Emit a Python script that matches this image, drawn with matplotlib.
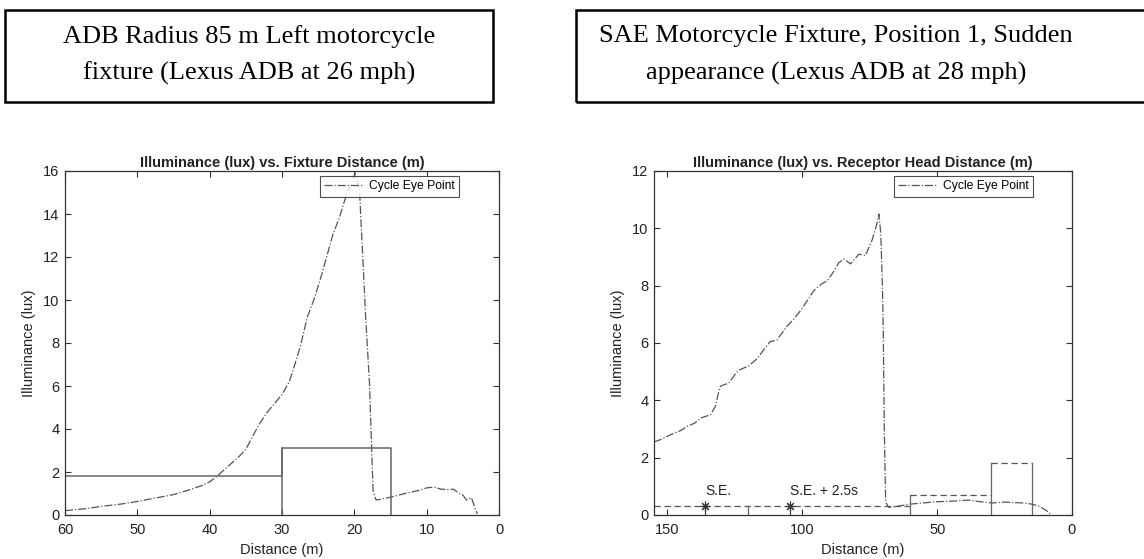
import matplotlib
matplotlib.use("Agg")
import matplotlib.pyplot as plt
from matplotlib.patches import Rectangle

# ---------------- data ----------------
left_dist = [60, 57, 55, 52, 50, 47, 45, 43, 41, 40, 39, 38, 37, 36, 35, 34, 33, 32, 31, 30,
             29, 28.5, 27.5, 26.5, 25.5, 24.5, 23, 22, 21, 20.3, 19.9, 19.3, 18.4, 17.9, 17.6,
             17.4, 17.0, 16.5, 15, 13, 11, 10, 9, 8, 7, 6.3, 5.5, 5.0, 4.5, 3.8, 3.4, 3.0]
left_lux = [0.2, 0.3, 0.4, 0.52, 0.63, 0.82, 0.95, 1.15, 1.38, 1.54, 1.8, 2.1, 2.4, 2.7, 3.05,
            3.7, 4.3, 4.8, 5.2, 5.6, 6.2, 6.7, 7.8, 9.2, 10.1, 11.2, 13.0, 13.9, 15.0, 15.5,
            15.9, 15.2, 9.0, 6.1, 3.0, 1.1, 0.7, 0.72, 0.83, 1.0, 1.15, 1.26, 1.3, 1.2, 1.18,
            1.2, 1.0, 0.93, 0.7, 0.8, 0.4, 0.05]
left_limit_dist = [60, 30, 30, 15, 15]
left_limit_lux = [1.8, 1.8, 3.1, 3.1, 0]

right_dist = [155, 152, 148.8, 145, 142.6, 140, 137.7, 134, 132.2, 131, 130.3, 127.3, 125, 123.6,
              119.9, 116.8, 114, 111.9, 109.5, 107.5, 105.8, 103, 100.6, 98, 95.7, 93, 90.7,
              88.3, 86.5, 84.6, 82.1, 79, 76.6, 74.1, 72.5, 71.6, 70.9, 70.3, 70.0, 69.6, 69.1,
              68, 65, 60, 55, 51.3, 45, 38.3, 33, 29.6, 25, 22.9, 18, 14.9, 12, 9.4, 7.6]
right_lux = [2.55, 2.65, 2.8, 2.95, 3.1, 3.2, 3.38, 3.5, 3.8, 4.3, 4.5, 4.6, 4.9, 5.05, 5.2, 5.45,
             5.8, 6.05, 6.1, 6.35, 6.57, 6.85, 7.14, 7.5, 7.83, 8.05, 8.18, 8.5, 8.8, 8.93, 8.76,
             9.1, 9.05, 9.6, 10.1, 10.5, 9.8, 8.0, 6.5, 3.0, 0.45, 0.27, 0.3, 0.38, 0.42, 0.46,
             0.48, 0.52, 0.45, 0.42, 0.45, 0.44, 0.42, 0.38, 0.3, 0.15, 0.0]
right_low_dist = [155, 60]
right_low_lux = [0.3, 0.3]
right_mid_dist = [60, 30]
right_mid_lux = [0.7, 0.7]
right_high_dist = [30, 15]
right_high_lux = [1.8, 1.8]
right_marker_dist = [136, 104.5]
right_marker_lux = [0.3, 0.3]
right_marker_labels = ["S.E.", "S.E. + 2.5s"]

left_xticks = [60, 50, 40, 30, 20, 10, 0]
left_yticks = [0, 2, 4, 6, 8, 10, 12, 14, 16]
right_xticks = [150, 100, 50, 0]
right_yticks = [0, 2, 4, 6, 8, 10, 12]

box_titles = ["ADB Radius 85 m Left motorcycle\nfixture (Lexus ADB at 26 mph)",
              "SAE Motorcycle Fixture, Position 1, Sudden\nappearance (Lexus ADB at 28 mph)"]
plot_titles = ["Illuminance (lux) vs. Fixture Distance (m)",
               "Illuminance (lux) vs. Receptor Head Distance (m)"]
legend_label = "Cycle Eye Point"

# ---------------- figure ----------------
W, H = 1144, 559
fig = plt.figure(figsize=(W / 100, H / 100), dpi=100)
plt.rcParams['font.family'] = ['Liberation Sans', 'DejaVu Sans']

def fx(px):
    return px / W

def fy(py):
    return 1 - py / H

# title boxes
for (x0, x1, cx), txt in zip([(5, 493, 249), (576, 1160, 836)], box_titles):
    fig.patches.append(Rectangle((fx(x0), fy(101.5)), fx(x1 - x0), (101.5 - 10) / H,
                                 transform=fig.transFigure, fill=False, lw=1.8,
                                 edgecolor='black', clip_on=False))
    fig.text(fx(cx), fy(55), txt, ha='center', va='center', fontsize=19,
             family=['Liberation Serif'], linespacing=1.8)

spine_c = '#333333'
line_c = '#555555'

def style(ax, xlim, ylim, xticks, yticks, title):
    ax.set_xlim(*xlim)
    ax.set_ylim(*ylim)
    ax.set_xticks(xticks)
    ax.set_yticks(yticks)
    ax.tick_params(direction='in', top=True, right=True, length=4, width=0.8,
                   colors=spine_c, labelsize=10.5, labelcolor='#222222')
    ax.tick_params(axis='x', pad=6)
    ax.tick_params(axis='y', pad=4)
    for s in ax.spines.values():
        s.set_color(spine_c)
        s.set_linewidth(0.9)
    ax.set_title(title, fontsize=10.5, fontweight='bold', pad=3, color='#222222')
    ax.set_xlabel("Distance (m)", fontsize=10.5, labelpad=4, color='#222222')
    ax.set_ylabel("Illuminance (lux)", fontsize=10.5, labelpad=5, color='#222222')

# left axes
ax1 = fig.add_axes([fx(65), fy(515), fx(499 - 65), (515 - 171) / H])
ln, = ax1.plot(left_dist, left_lux, ls='-.', color=line_c, lw=0.9, label=legend_label)
ax1.plot(left_limit_dist, left_limit_lux, color='#666666', lw=1.1)
ax1.plot([30, 30], [0, 3.1], color='#666666', lw=1.1)
style(ax1, (60, 0), (0, 16), left_xticks, left_yticks, plot_titles[0])
leg1 = ax1.legend(loc='upper right', bbox_to_anchor=(0.908, 0.985), fontsize=8.7,
                  frameon=True, fancybox=False, edgecolor='#222222', borderpad=0.35,
                  handlelength=3.2, handletextpad=0.5, borderaxespad=0)
leg1.get_frame().set_linewidth(0.8)

# right axes
ax2 = fig.add_axes([fx(654), fy(515), fx(1072 - 654), (515 - 171) / H])
ax2.plot(right_dist, right_lux, ls='-.', color=line_c, lw=0.9, label=legend_label)
ax2.plot(right_low_dist, right_low_lux, ls='--', color='#555555', lw=0.9, dashes=(5, 3))
ax2.plot(right_mid_dist, right_mid_lux, ls='--', color='#555555', lw=0.9, dashes=(5, 3))
ax2.plot(right_high_dist, right_high_lux, ls='--', color='#555555', lw=0.9, dashes=(5, 3))
ax2.plot([right_mid_dist[0], right_mid_dist[0]], [0, right_mid_lux[0]], color='#666666', lw=0.9)
ax2.plot([right_high_dist[0], right_high_dist[0]], [0, right_high_lux[0]], color='#666666', lw=0.9)
ax2.plot([right_high_dist[1], right_high_dist[1]], [0, right_high_lux[1]], color='#666666', lw=0.9)
ax2.plot([120, 120], [0, 0.3], color='#666666', lw=0.9)
for d, v, lab in zip(right_marker_dist, right_marker_lux, right_marker_labels):
    ax2.plot([d, d], [0, v], color='#444444', lw=0.9)
    ax2.plot([d], [v], marker=(8, 2, 0), color='#333333', ms=7, mew=0.8)
    ax2.text(d, v + 0.28, lab, ha='left', va='bottom', fontsize=10, color='#222222')
style(ax2, (155, 0), (0, 12), right_xticks, right_yticks, plot_titles[1])
leg2 = ax2.legend(loc='upper right', bbox_to_anchor=(0.907, 0.985), fontsize=8.7,
                  frameon=True, fancybox=False, edgecolor='#222222', borderpad=0.35,
                  handlelength=3.2, handletextpad=0.5, borderaxespad=0)
leg2.get_frame().set_linewidth(0.8)

fig.savefig("out.png", dpi=100)
